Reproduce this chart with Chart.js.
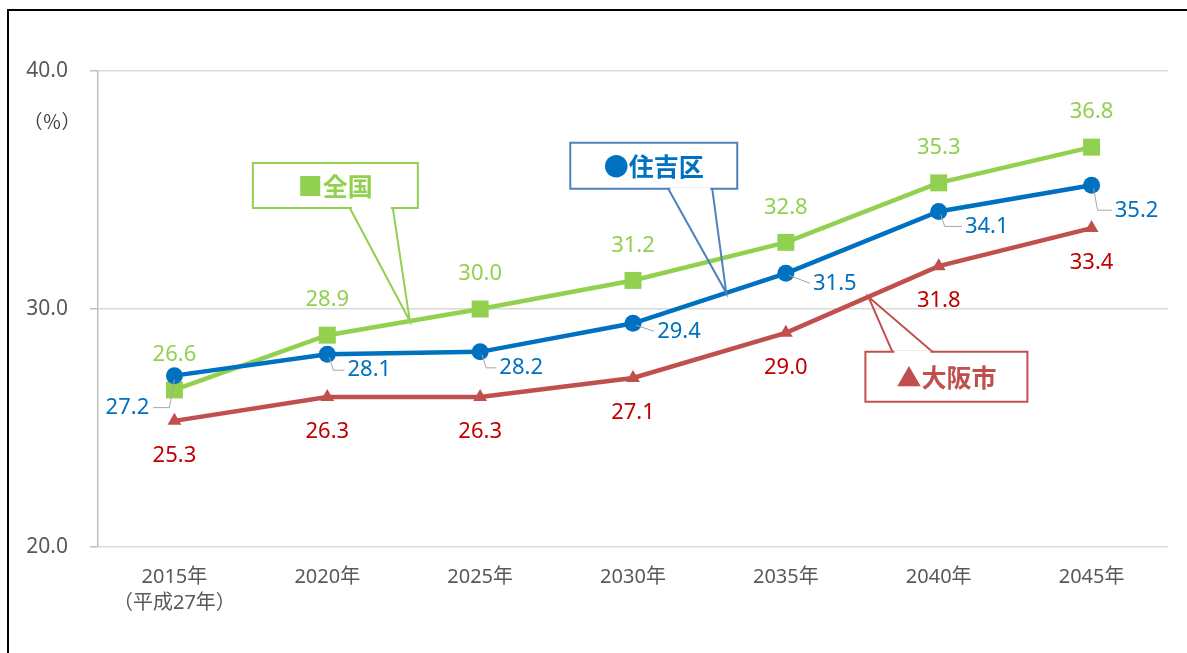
<!DOCTYPE html>
<html>
<head>
<meta charset="utf-8">
<script src="https://cdn.jsdelivr.net/npm/chart.js@4.4.1/dist/chart.umd.min.js"></script>
<style>
  html, body { margin: 0; padding: 0; background: #fff; }
  #agingChart { display: block; }
</style>
</head>
<body>
<canvas id="agingChart" width="1187" height="653"></canvas>
<script>
// categories + series (高齢化率 %)
const years = ['2015年', '2020年', '2025年', '2030年', '2035年', '2040年', '2045年'];
const firstYearNote = '（平成27年）';
const sumiyoshi = [27.2, 28.1, 28.2, 29.4, 31.5, 34.1, 35.2];
const zenkoku = [26.6, 28.9, 30.0, 31.2, 32.8, 35.3, 36.8];
const osakaCity = [25.3, 26.3, 26.3, 27.1, 29.0, 31.8, 33.4];
const yTicks = [20, 30, 40];

const GREEN = '#92D050', BLUE = '#0070C0', RED_LINE = '#C0504D', RED_TEXT = '#C00000';
const FONT = "'Noto Sans', 'Noto Sans CJK JP', sans-serif";
const CJK = "'Noto Sans CJK JP', sans-serif";

// blue labels sit beside the point, offset [dx, dy] of label centre
const blueShift = [[-47, 32], [42, 16], [41, 16], [46, 8], [49, 10], [48, 15], [45, 25]];

const labels = years.map((y, i) => i === 0 ? [y, firstYearNote] : y);

// draws value labels, callouts and the outer frame
const decorPlugin = {
    id: 'decor',
    afterDatasetsDraw(chart) {
        const ctx = chart.ctx;
        const xs = chart.scales.x, ys = chart.scales.y;
        ctx.save();
        ctx.font = '22px ' + FONT;
        ctx.textAlign = 'center';
        ctx.textBaseline = 'middle';

        // 全国 above, 大阪市 below
        chart.getDatasetMeta(1).data.forEach((p, i) => {
            ctx.fillStyle = GREEN;
            ctx.fillText(zenkoku[i].toFixed(1), p.x, p.y - 35);
        });
        chart.getDatasetMeta(2).data.forEach((p, i) => {
            ctx.fillStyle = RED_TEXT;
            ctx.fillText(osakaCity[i].toFixed(1), p.x, p.y + 35);
        });

        // 住吉区 beside, with small grey leader lines
        chart.getDatasetMeta(0).data.forEach((p, i) => {
            const lx = p.x + blueShift[i][0], ly = p.y + blueShift[i][1];
            const w = ctx.measureText(sumiyoshi[i].toFixed(1)).width;
            ctx.strokeStyle = '#A6A6A6';
            ctx.lineWidth = 1;
            ctx.beginPath();
            if (blueShift[i][0] < 0) {
                ctx.moveTo(p.x, p.y + 4);
                ctx.lineTo(p.x - 5, ly);
                ctx.lineTo(lx + w / 2 + 4, ly);
            } else if (blueShift[i][1] > 10) {
                ctx.moveTo(p.x + 2, p.y + 3);
                ctx.lineTo(p.x + 6, ly);
                ctx.lineTo(lx - w / 2 - 3, ly);
            } else {
                ctx.moveTo(p.x + 3, p.y + 2);
                ctx.lineTo(lx - w / 2 - 3, ly);
            }
            ctx.stroke();
            ctx.fillStyle = BLUE;
            ctx.fillText(sumiyoshi[i].toFixed(1), lx, ly);
        });

        // callouts pointing at a spot on each line
        const onLine = (arr, i, f) => ({
            x: xs.getPixelForValue(i) * (1 - f) + xs.getPixelForValue(i + 1) * f,
            y: ys.getPixelForValue(arr[i] * (1 - f) + arr[i + 1] * f)
        });
        const callout = (tip, box, baseA, baseB, stroke, textColor, text) => {
            ctx.lineWidth = 2;
            ctx.strokeStyle = stroke;
            ctx.fillStyle = '#fff';
            ctx.beginPath();
            ctx.rect(box.x, box.y, box.w, box.h);
            ctx.fill();
            ctx.stroke();
            ctx.lineWidth = 2;
            ctx.beginPath();
            ctx.moveTo(baseA.x, baseA.y);
            ctx.lineTo(tip.x, tip.y);
            ctx.lineTo(baseB.x, baseB.y);
            ctx.stroke();
            // hide box edge between the pointer bases
            ctx.strokeStyle = '#fff';
            ctx.lineWidth = 2.5;
            ctx.beginPath();
            ctx.moveTo(Math.min(baseA.x, baseB.x) + 2, baseA.y);
            ctx.lineTo(Math.max(baseA.x, baseB.x) - 2, baseA.y);
            ctx.stroke();
            ctx.fillStyle = textColor;
            ctx.font = 'bold 25px ' + CJK;
            ctx.fillText(text, box.x + box.w / 2, box.y + box.h / 2 + 1);
        };

        const t1 = onLine(zenkoku, 1, 0.54);
        callout(t1, { x: t1.x - 157, y: t1.y - 158, w: 165, h: 45 },
            { x: t1.x - 60, y: t1.y - 113 }, { x: t1.x - 17, y: t1.y - 113 },
            GREEN, GREEN, '■全国');

        const t2 = onLine(sumiyoshi, 3, 0.61);
        callout(t2, { x: t2.x - 156, y: t2.y - 150, w: 167, h: 46 },
            { x: t2.x - 58, y: t2.y - 104 }, { x: t2.x - 14, y: t2.y - 104 },
            '#4F81BD', BLUE, '●住吉区');

        const t3 = onLine(osakaCity, 4, 0.54);
        callout(t3, { x: t3.x - 3, y: t3.y + 55, w: 162, h: 50 },
            { x: t3.x + 24, y: t3.y + 55 }, { x: t3.x + 64, y: t3.y + 55 },
            RED_LINE, RED_LINE, '▲大阪市');

        // unit label
        ctx.font = '19px ' + CJK;
        ctx.fillStyle = '#404040';
        ctx.fillText('（％）', 52, 122);

        // outer frame (open to the right/bottom like the crop)
        ctx.strokeStyle = '#000';
        ctx.lineWidth = 2;
        ctx.beginPath();
        ctx.moveTo(8, 653);
        ctx.lineTo(8, 10);
        ctx.lineTo(1187, 10);
        ctx.stroke();
        ctx.restore();
    }
};

new Chart(document.getElementById('agingChart'), {
    type: 'line',
    data: {
        labels: labels,
        datasets: [
            {
                label: '住吉区',
                data: sumiyoshi,
                borderColor: BLUE,
                backgroundColor: BLUE,
                borderWidth: 4.5,
                pointStyle: 'circle',
                pointRadius: 8.5,
                pointBorderWidth: 0
            },
            {
                label: '全国',
                data: zenkoku,
                borderColor: GREEN,
                backgroundColor: GREEN,
                borderWidth: 4.5,
                pointStyle: 'rect',
                pointRadius: 12,
                pointBorderWidth: 0
            },
            {
                label: '大阪市',
                data: osakaCity,
                borderColor: RED_LINE,
                backgroundColor: RED_LINE,
                borderWidth: 4.5,
                pointStyle: 'triangle',
                pointRadius: 8,
                pointBorderWidth: 0
            }
        ]
    },
    options: {
        responsive: false,
        animation: false,
        devicePixelRatio: 1,
        layout: { padding: { left: 0, top: 71, right: 19, bottom: 26 } },
        plugins: {
            legend: { display: false },
            tooltip: { enabled: false }
        },
        scales: {
            x: {
                offset: true,
                grid: { display: false, drawTicks: false },
                border: { display: false },
                ticks: {
                    padding: 17,
                    color: '#595959',
                    font: { family: FONT, size: 20, lineHeight: 1.3 },
                    maxRotation: 0
                },
                afterFit(s) { s.height = 80; }
            },
            y: {
                min: 20,
                max: 40,
                afterBuildTicks(s) { s.ticks = yTicks.map(v => ({ value: v })); },
                grid: { color: '#D9D9D9', tickColor: '#BFBFBF', tickLength: 8, lineWidth: 1.5 },
                border: { color: '#BFBFBF', width: 1.5 },
                ticks: {
                    padding: 22,
                    color: '#595959',
                    font: { family: FONT, size: 21 },
                    callback: v => v.toFixed(1)
                },
                afterFit(s) { s.width = 98; }
            }
        }
    },
    plugins: [decorPlugin]
});
</script>
</body>
</html>
